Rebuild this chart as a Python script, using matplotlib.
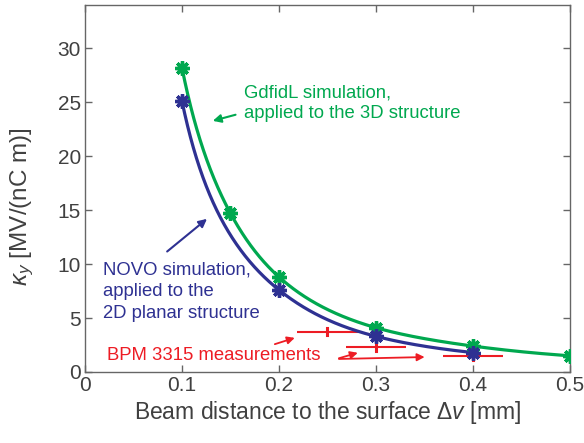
import numpy as np
import matplotlib
matplotlib.use("Agg")
import matplotlib.pyplot as plt

plt.rcParams['font.family'] = ['Liberation Sans', 'DejaVu Sans']
plt.rcParams['mathtext.fontset'] = 'custom'
plt.rcParams['mathtext.rm'] = 'Liberation Sans'
plt.rcParams['mathtext.it'] = 'Liberation Sans:italic'

# Data
gd_x = [0.1, 0.15, 0.2, 0.3, 0.4, 0.5]
gd_y = [28.2, 14.7, 8.8, 4.1, 2.4, 1.5]
novo_x = [0.1, 0.2, 0.3, 0.4]
novo_y = [25.1, 7.6, 3.3, 1.8]
bpm_x = [0.25, 0.30, 0.40]
bpm_y = [3.75, 2.35, 1.45]
bpm_xerr = [0.031, 0.031, 0.031]
bpm_yerr = [0.35, 0.4, 0.35]
xticks = [0, 0.1, 0.2, 0.3, 0.4, 0.5]
xticklabels = ['0', '0.1', '0.2', '0.3', '0.4', '0.5']
yticks = [0, 5, 10, 15, 20, 25, 30]

green = '#00a84f'
blue = '#2e3192'
red = '#ed1c24'
gray = '#404040'

def smooth(xs, ys, n=200):
    lx = np.log(np.asarray(xs, float)); ly = np.log(np.asarray(ys, float))
    m = np.zeros_like(lx)
    d = np.diff(ly) / np.diff(lx)
    m[0] = d[0]; m[-1] = d[-1]
    m[1:-1] = (d[:-1] + d[1:]) / 2
    outx, outy = [], []
    for i in range(len(lx) - 1):
        h = lx[i+1] - lx[i]
        t = np.linspace(0, 1, n)
        h00 = 2*t**3 - 3*t**2 + 1; h10 = t**3 - 2*t**2 + t
        h01 = -2*t**3 + 3*t**2; h11 = t**3 - t**2
        y = h00*ly[i] + h10*h*m[i] + h01*ly[i+1] + h11*h*m[i+1]
        outx.append(lx[i] + t*h); outy.append(y)
    return np.exp(np.concatenate(outx)), np.exp(np.concatenate(outy))

fig = plt.figure(figsize=(5.84, 4.43), dpi=100)
ax = fig.add_axes([0.1455, 0.1603, 0.976-0.1455, 0.9887-0.1603])

for xs, ys, c in [(gd_x, gd_y, green), (novo_x, novo_y, blue)]:
    sx, sy = smooth(xs, ys)
    ax.plot(sx, sy, color=c, lw=2.3, solid_capstyle='round', zorder=3)
    ax.plot(xs, ys, linestyle='none', marker='o', ms=6.5, color=c, zorder=4)
    ax.plot(xs, ys, linestyle='none', marker=(8, 2, 0), ms=10.5, mew=2.4, color=c, zorder=4)

ax.errorbar(bpm_x, bpm_y, xerr=bpm_xerr, fmt='none', ecolor=red, elinewidth=1.5, capsize=0, zorder=2)
for x, y, e in zip(bpm_x, bpm_y, bpm_yerr):
    ax.plot([x, x], [y-e, y+e], color=red, lw=2.2, zorder=2)

ax.text(0.164, 24.9, 'GdfidL simulation,\napplied to the 3D structure', color=green,
        fontsize=13.3, ha='left', va='center', linespacing=1.32)
ax.annotate('', xy=(0.129, 23.2), xytext=(0.158, 23.9),
            arrowprops=dict(arrowstyle='-|>', color=green, lw=1.5, mutation_scale=12))

ax.text(0.0186, 7.45, 'NOVO simulation,\napplied to the\n2D planar structure', color=blue,
        fontsize=13.3, ha='left', va='center', linespacing=1.35)
ax.annotate('', xy=(0.128, 14.35), xytext=(0.0825, 11.0),
            arrowprops=dict(arrowstyle='-|>', color=blue, lw=1.5, mutation_scale=12))

ax.text(0.0227, 1.55, 'BPM 3315 measurements', color=red, fontsize=13.3, ha='left', va='center')
for hx, hy, tx, ty in [(0.219, 3.24, 0.193, 2.5), (0.284, 1.85, 0.259, 1.2), (0.353, 1.39, 0.259, 1.2)]:
    ax.annotate('', xy=(hx, hy), xytext=(tx, ty),
                arrowprops=dict(arrowstyle='-|>', color=red, lw=1.3, mutation_scale=11))

ax.set_xlim(0, 0.5)
ax.set_ylim(0, 34)
ax.set_xticks(xticks)
ax.set_xticklabels(xticklabels)
ax.set_yticks(yticks)
ax.tick_params(direction='in', top=True, right=True, length=5, width=1, color='#666666',
               labelsize=15, labelcolor=gray, pad=3)
for s in ax.spines.values():
    s.set_color('#666666'); s.set_linewidth(1)

ax.set_xlabel(r'Beam distance to the surface $\mathit{\Delta v}$ [mm]', fontsize=16.5, color=gray, labelpad=3)
ax.set_ylabel(r'$\mathit{\kappa}_{\mathit{y}}$ [MV/(nC m)]', fontsize=17.5, color=gray)
ax.yaxis.set_label_coords(-0.10, 0.45)

fig.savefig('out.png', dpi=100)
